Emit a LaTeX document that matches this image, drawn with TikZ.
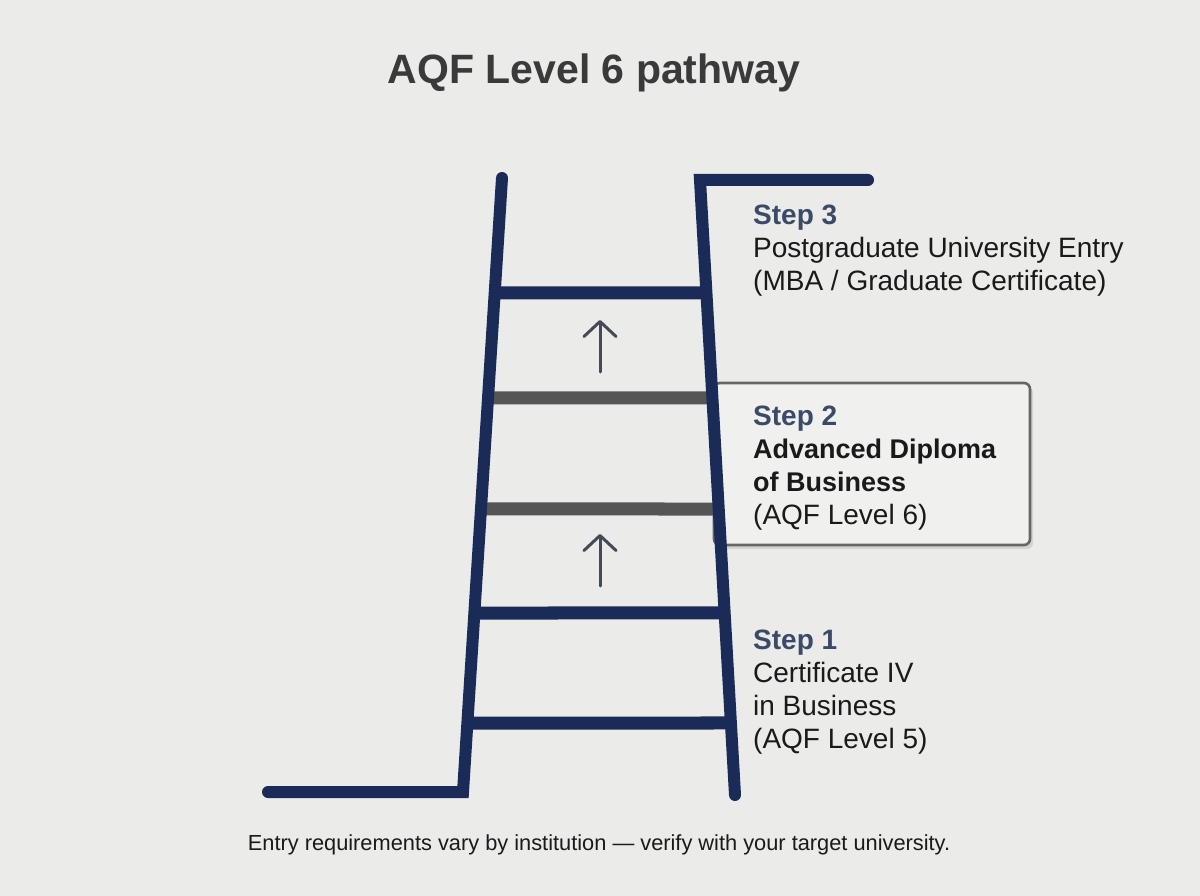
\documentclass[tikz,border=0pt]{standalone}
\usepackage{fontspec}
\setmainfont{Liberation Sans}
\usepackage{tikz}
\usetikzlibrary{arrows.meta, calc, shadows}

\definecolor{bgcol}{HTML}{EBEBEA}
\definecolor{ladnavy}{HTML}{1B2B57}
\definecolor{rungray}{HTML}{555555}
\definecolor{arrowgray}{HTML}{454A54}
\definecolor{steplbl}{HTML}{3B4A66}
\definecolor{bodytxt}{HTML}{1A1A1A}
\definecolor{titletxt}{HTML}{3A3A3A}

\tikzset{
  rail/.style={ladnavy, line width=12pt, line cap=round, line join=miter},
  rung/.style={line width=13pt, line cap=butt},
  uparrow/.style={arrowgray, line width=3pt, line cap=round,
    -{Straight Barb[length=15pt, width=32pt, round]}},
  stepbox/.style={draw=rungray!90, line width=2.6pt, rounded corners=6pt, fill=bgcol!75!white,
    drop shadow={opacity=0.22, shadow xshift=3pt, shadow yshift=-4pt}},
  steptext/.style={anchor=north west, align=left, inner sep=0pt, text=bodytxt,
    font=\fontsize{28}{33}\selectfont}
}
\newcommand{\steplabel}[1]{{\bfseries\color{steplbl}#1}}

\begin{document}
\begin{tikzpicture}[x=1pt, y=-1pt]
  \useasboundingbox[fill=bgcol] (0,0) rectangle (1200,896);

  % title
  \node[font=\bfseries\fontsize{41}{48}\selectfont, text=titletxt] (title) at (594,73) {AQF Level 6 pathway};

  % step 2 box behind ladder edge
  \node[stepbox, minimum width=316pt, minimum height=162pt, inner sep=0pt] (box2) at (872,464) {};

  % rails end points
  \coordinate (lt) at (502,178);
  \coordinate (lb) at (463,792);
  \coordinate (rt) at (700,180);
  \coordinate (rb) at (735,795);
  \coordinate (gnd) at (268,792);
  \coordinate (top) at (868,180);

  % rungs (kept level)
  \foreach \y/\col [count=\i] in {293/ladnavy, 398/rungray, 509/rungray, 613/ladnavy, 723/ladnavy} {
    \pgfmathsetmacro{\tl}{(\y-178)/614}
    \pgfmathsetmacro{\tr}{(\y-180)/615}
    \draw[rung, \col] ($(lt)!\tl!(lb)$) coordinate (rl\i) -- ($(rt)!\tr!(rb)$) coordinate (rr\i);
  }

  % rails
  \draw[rail] (gnd) -- (lb) -- (lt);
  \draw[rail] (rb) -- (rt) -- (top);

  % arrows between rungs
  \coordinate (a1s) at (600,372);
  \coordinate (a1e) at (600,320);
  \coordinate (a2s) at (600,586);
  \coordinate (a2e) at (600,534);
  \draw[uparrow] (a1s) -- (a1e);
  \draw[uparrow] (a2s) -- (a2e);

  % step texts
  \node[steptext] (s3) at (753,205) {\steplabel{Step 3}\\Postgraduate University Entry\\(MBA / Graduate Certificate)};
  \node[steptext] (s2) at (753,406) {\steplabel{Step 2}\\{\bfseries\fontsize{27}{33}\selectfont Advanced Diploma}\\{\bfseries\fontsize{27}{33}\selectfont of Business}\\(AQF Level 6)};
  \node[steptext] (s1) at (753,630) {\steplabel{Step 1}\\Certificate IV\\in Business\\(AQF Level 5)};

  % footer
  \node[font=\fontsize{21.8}{26}\selectfont, text=bodytxt] (note) at (599,845)
    {Entry requirements vary by institution --- verify with your target university.};
\end{tikzpicture}
\end{document}
